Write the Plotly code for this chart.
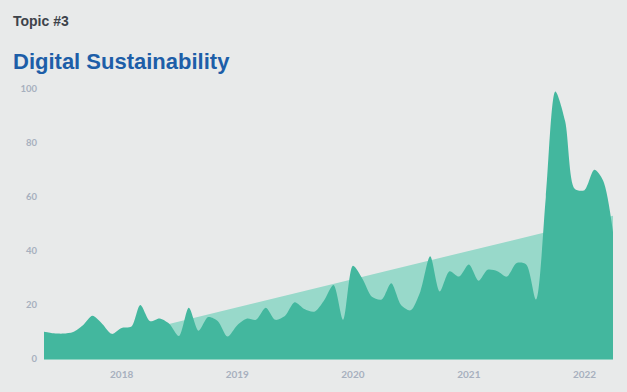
import plotly.graph_objects as go
import pandas as pd

# Monthly mentions (May 2017 - Apr 2022)
months = pd.date_range("2017-05-01", "2022-04-01", freq="MS")
values = [10.1, 9.5, 9.4, 10.0, 12.5, 16.0, 13.0, 9.3, 11.5, 12.0,
          20.0, 14.0, 15.0, 13.0, 8.5, 19.0, 10.5, 15.5, 14.0, 8.3,
          12.5, 15.0, 14.5, 19.0, 14.5, 16.0, 21.0, 18.5, 17.5, 21.5,
          27.4, 14.5, 34.5, 29.5, 23.0, 22.0, 28.0, 20.0, 18.0, 25.0,
          38.0, 25.0, 32.5, 30.5, 35.0, 29.0, 33.0, 32.5, 30.5, 35.5,
          35.0, 22.0, 60.0, 99.0, 88.0, 63.0, 62.5, 70.0, 66.0, 47.0]

# Linear trend endpoints
trend_dates = [months[0], months[-1]]
trend_values = [1.7, 53.0]

y_ticks = [0, 20, 40, 60, 80, 100]
x_ticks = ["2018-01-01", "2019-01-01", "2020-01-01", "2021-01-01", "2022-01-01"]
x_tick_labels = ["2018", "2019", "2020", "2021", "2022"]

BG = "#e8eaea"
DARK = "#43b79e"
LIGHT = "#98d9ca"
TICK = "#a7b0be"

fig = go.Figure()
fig.add_trace(go.Scatter(
    x=trend_dates, y=trend_values, mode="lines", fill="tozeroy",
    line=dict(width=0, color=LIGHT), fillcolor=LIGHT, hoverinfo="skip",
    showlegend=False))
fig.add_trace(go.Scatter(
    x=months, y=values, mode="lines", fill="tozeroy",
    line=dict(width=0, color=DARK, shape="spline", smoothing=0.8),
    fillcolor=DARK, showlegend=False))

L, R, T, B = 44, 14, 78, 33
W, H = 627, 392
pw, ph = W - L - R, H - T - B

def px(x):
    return (x - L) / pw

def py(y):
    return (H - B - y) / ph

fig.update_layout(
    width=W, height=H,
    margin=dict(l=L, r=R, t=T, b=B, pad=0),
    paper_bgcolor=BG, plot_bgcolor=BG,
    font=dict(family="Liberation Sans"),
    xaxis=dict(
        range=[months[0], months[-1]], tickvals=x_ticks, ticktext=x_tick_labels,
        showgrid=False, zeroline=False, showline=True, linecolor="#8fd3c2",
        linewidth=1, ticks="outside", ticklen=6, tickcolor=BG,
        tickfont=dict(family="Lato", size=10, color=TICK, weight="bold"),
    ),
    yaxis=dict(
        range=[0, 104], tickvals=y_ticks, showgrid=False, zeroline=False,
        showline=False, ticks="outside", ticklen=4, tickcolor=BG,
        tickfont=dict(family="Lato", size=9.5, color=TICK, weight="bold"),
    ),
    annotations=[
        dict(text="<b>Topic #3</b>", xref="paper", yref="paper",
             x=px(11), y=py(21), xanchor="left", yanchor="middle",
             showarrow=False, font=dict(family="Liberation Sans", size=14, color="#3d434a")),
        dict(text="<b>Digital Sustainability</b>", xref="paper", yref="paper",
             x=px(11), y=py(61), xanchor="left", yanchor="middle",
             showarrow=False, font=dict(family="Liberation Sans", size=22, color="#1d5ea8")),
    ],
)

fig.write_html("out.html", config={"displayModeBar": False},
               post_script="document.body.style.margin='0';document.body.style.background='%s';" % BG)
